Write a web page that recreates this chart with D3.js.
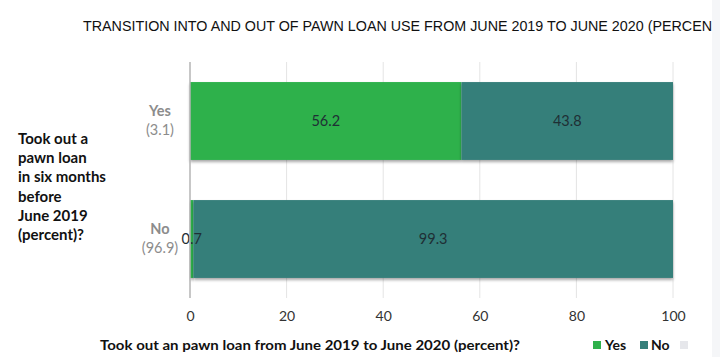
<!DOCTYPE html>
<html>
<head>
<meta charset="utf-8">
<script src="https://cdn.jsdelivr.net/npm/d3@7"></script>
<style>
  html, body { margin: 0; padding: 0; background: #fff; }
  svg { display: block; }
</style>
</head>
<body>
<svg id="chart" width="720" height="357"></svg>
<script>
// ---- data ----
const categories = ["Yes", "No"];
const categoryShares = ["(3.1)", "(96.9)"];
const yesValues = [56.2, 0.7];
const noValues = [43.8, 99.3];
const seriesNames = ["Yes", "No"];
const xTicks = [0, 20, 40, 60, 80, 100];
const titleText = "TRANSITION INTO AND OUT OF PAWN LOAN USE FROM JUNE 2019 TO JUNE 2020 (PERCEN";
const yTitleLines = ["Took out a", "pawn loan", "in six months", "before", "June 2019", "(percent)?"];
const xTitleText = "Took out an pawn loan from June 2019 to June 2020 (percent)?";

// ---- styles ----
const colors = { Yes: "#2eb14b", No: "#357f7a" };
const font = "Lato, 'Open Sans', sans-serif";

const svg = d3.select("#chart");

// right side light panel
svg.append("rect").attr("x", 712).attr("y", 0).attr("width", 8).attr("height", 357).attr("fill", "#f5f6f8");

const defs = svg.append("defs");
const f = defs.append("filter").attr("id", "shadow").attr("x", "-5%").attr("y", "-10%").attr("width", "110%").attr("height", "130%");
f.append("feDropShadow").attr("dx", 0).attr("dy", 2).attr("stdDeviation", 1.5).attr("flood-color", "#000").attr("flood-opacity", 0.35);

const x = d3.scaleLinear().domain([0, 100]).range([190, 673]);
const y = d3.scaleBand().domain(categories).range([62, 298]).paddingInner(0.34).paddingOuter(0.17);

// title
svg.append("text")
  .attr("x", 83).attr("y", 31)
  .attr("font-family", "'Liberation Sans Narrow', 'Liberation Sans', Arial, sans-serif")
  .attr("font-size", 14.5)
  .attr("fill", "#111")
  .attr("textLength", 629).attr("lengthAdjust", "spacingAndGlyphs")
  .text(titleText);

// gridlines
svg.append("g").selectAll("line").data(xTicks.filter(d => d > 0)).join("line")
  .attr("x1", d => x(d)).attr("x2", d => x(d))
  .attr("y1", 62).attr("y2", 298)
  .attr("stroke", "#e4e4e4").attr("stroke-width", 1);

// bars
const rows = categories.map((c, i) => ({ cat: c, share: categoryShares[i], Yes: yesValues[i], No: noValues[i] }));
const stack = d3.stack().keys(seriesNames)(rows);

const barG = svg.append("g");
stack.forEach(layer => {
  barG.append("g").selectAll("rect").data(layer).join("rect")
    .attr("x", d => x(d[0]))
    .attr("width", d => x(d[1]) - x(d[0]))
    .attr("y", d => y(d.data.cat))
    .attr("height", y.bandwidth())
    .attr("fill", colors[layer.key])
    .attr("filter", "url(#shadow)");
});

// value labels
stack.forEach(layer => {
  svg.append("g").selectAll("text").data(layer).join("text")
    .attr("x", d => (x(d[0]) + x(d[1])) / 2)
    .attr("y", d => y(d.data.cat) + y.bandwidth() / 2 + 5)
    .attr("text-anchor", "middle")
    .attr("font-family", font).attr("font-size", 14.5)
    .attr("fill", "#1f2f35")
    .text(d => (d[1] - d[0]).toFixed(1));
});

// y axis line
svg.append("line").attr("x1", x(0)).attr("x2", x(0)).attr("y1", 62).attr("y2", 298)
  .attr("stroke", "#b5b5b5").attr("stroke-width", 1.5);

// category labels
const catG = svg.append("g");
rows.forEach(r => {
  const cy = y(r.cat) + y.bandwidth() / 2;
  catG.append("text").attr("x", 160).attr("y", cy - 5).attr("text-anchor", "middle")
    .attr("font-family", font).attr("font-size", 14.5).attr("font-weight", "bold").attr("fill", "#8c8c8c")
    .text(r.cat);
  catG.append("text").attr("x", 160).attr("y", cy + 14).attr("text-anchor", "middle")
    .attr("font-family", font).attr("font-size", 14.5).attr("fill", "#8c8c8c")
    .text(r.share);
});

// x axis
const xAxis = d3.axisBottom(x).tickValues(xTicks).tickSize(0).tickPadding(0);
const ax = svg.append("g").attr("transform", "translate(0,311)").call(xAxis);
ax.select(".domain").remove();
ax.selectAll("text").attr("font-family", font).attr("font-size", 14).attr("fill", "#333");

// y title
svg.append("g").selectAll("text").data(yTitleLines).join("text")
  .attr("x", 18).attr("y", (d, i) => 144 + i * 19.2)
  .attr("font-family", font).attr("font-size", 15).attr("font-weight", "bold").attr("fill", "#111")
  .text(d => d);

// x title
svg.append("text").attr("x", 100).attr("y", 350)
  .attr("font-family", font).attr("font-size", 13.5).attr("font-weight", "bold").attr("fill", "#111")
  .attr("textLength", 420).attr("lengthAdjust", "spacingAndGlyphs")
  .text(xTitleText);

// legend
const legendItems = [
  { name: "Yes", color: colors.Yes, sx: 593, tx: 605 },
  { name: "No", color: colors.No, sx: 640, tx: 651 },
  { name: "", color: "#e6e7eb", sx: 680, tx: 690 }
];
const lg = svg.append("g");
legendItems.forEach(it => {
  lg.append("rect").attr("x", it.sx).attr("y", 341).attr("width", 8).attr("height", 8).attr("fill", it.color);
  if (it.name) lg.append("text").attr("x", it.tx).attr("y", 350)
    .attr("font-family", font).attr("font-size", 14).attr("font-weight", "bold").attr("fill", "#111")
    .text(it.name);
});
</script>
</body>
</html>
